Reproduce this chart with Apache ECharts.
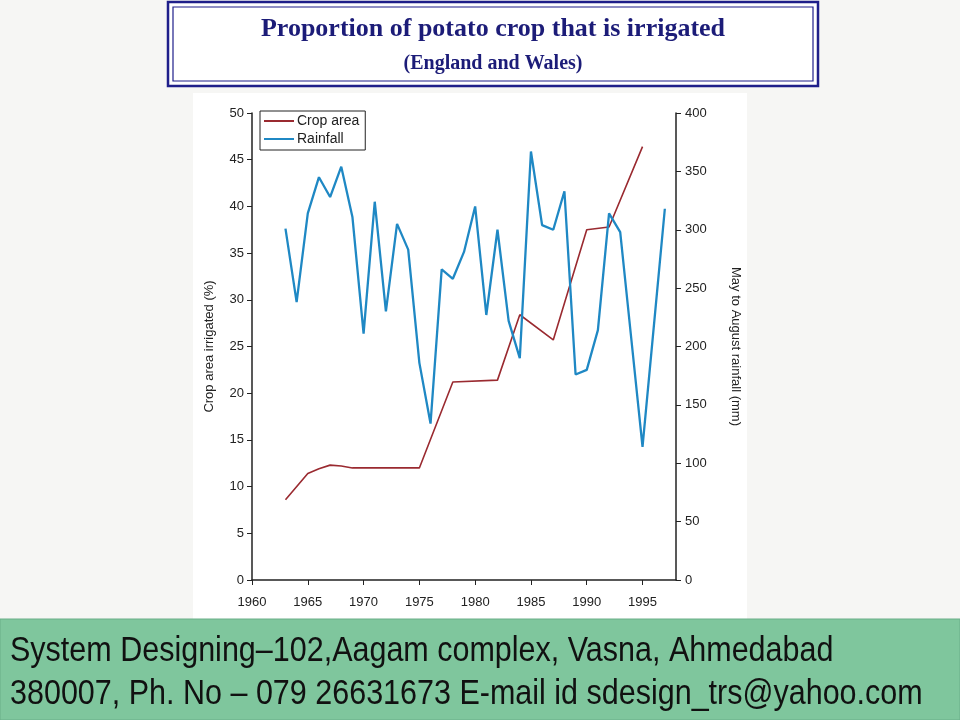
<!DOCTYPE html>
<html>
<head>
<meta charset="utf-8">
<script src="https://cdn.jsdelivr.net/npm/echarts@6/dist/echarts.min.js"></script>
<style>
  html, body { margin: 0; padding: 0; background: #f6f6f4; }
  #chart { width: 960px; height: 720px; }
</style>
</head>
<body>
<div id="chart"></div>
<script>
// Rainfall, May to August (mm), one value per year
var rainYears = [1963, 1964, 1965, 1966, 1967, 1968, 1969, 1970, 1971, 1972,
                 1973, 1974, 1975, 1976, 1977, 1978, 1979, 1980, 1981, 1982,
                 1983, 1984, 1985, 1986, 1987, 1988, 1989, 1990, 1991, 1992,
                 1993, 1994, 1995, 1996, 1997];
var rainValues = [301, 238, 314, 345, 328, 354, 311, 211, 324, 230,
                  305, 283, 186, 134, 266, 258, 281, 320, 227, 300,
                  222, 190, 367, 304, 300, 333, 176, 180, 214, 314,
                  298, 206, 114, 216, 318];

// Crop area irrigated (%)
var cropYears = [1963, 1965, 1966, 1967, 1968, 1969, 1970, 1975, 1978, 1982, 1984, 1987, 1990, 1992, 1995];
var cropValues = [8.6, 11.4, 11.9, 12.3, 12.2, 12.0, 12.0, 12.0, 21.2, 21.4, 28.4, 25.7, 37.5, 37.8, 46.4];

var titleText = 'Proportion of potato crop that is irrigated';
var subtitleText = '(England and Wales)';
var footerLines = [
    'System Designing\u2013102,Aagam complex, Vasna, Ahmedabad',
    '380007, Ph. No \u2013 079 26631673 E-mail id sdesign_trs@yahoo.com'
];

function pairs(xs, ys) {
    return xs.map(function (x, i) { return [x, ys[i]]; });
}

var chart = echarts.init(document.getElementById('chart'));

var axisText = { color: '#222', fontFamily: 'Liberation Sans, Arial, sans-serif', fontSize: 13 };

chart.setOption({
    backgroundColor: '#f6f6f4',
    animation: false,
    textStyle: { fontFamily: 'Liberation Sans, Arial, sans-serif' },
    graphic: [
        // white sheet behind the plot
        { type: 'rect', z: -10, shape: { x: 193, y: 93, width: 554, height: 527 }, style: { fill: '#ffffff' } },
        // title box, double border
        { type: 'rect', z: -5, shape: { x: 168, y: 2, width: 650, height: 84 },
          style: { fill: '#ffffff', stroke: '#1f1f8a', lineWidth: 2.5 } },
        { type: 'rect', z: -4, shape: { x: 173, y: 7, width: 640, height: 74 },
          style: { fill: 'none', stroke: '#1f1f8a', lineWidth: 1.2 } },
        { type: 'text', x: 493, y: 29, style: {
            text: titleText, fill: '#1c1c78', align: 'center', verticalAlign: 'middle',
            font: 'bold 26px "Liberation Serif", "Times New Roman", serif' } },
        { type: 'text', x: 493, y: 64, style: {
            text: subtitleText, fill: '#1c1c78', align: 'center', verticalAlign: 'middle',
            font: 'bold 20px "Liberation Serif", "Times New Roman", serif' } },
        // footer band
        { type: 'rect', z: -5, shape: { x: 0, y: 619, width: 960, height: 101 },
          style: { fill: '#7fc69d', stroke: '#6aae88', lineWidth: 1 } },
        { type: 'text', x: 10, y: 651, scaleY: 1.15, style: {
            text: footerLines[0], fill: '#111', verticalAlign: 'middle',
            font: '30.5px "Liberation Sans", Arial, sans-serif' } },
        { type: 'text', x: 10, y: 694, scaleY: 1.15, style: {
            text: footerLines[1], fill: '#111', verticalAlign: 'middle',
            font: '30.5px "Liberation Sans", Arial, sans-serif' } }
    ],
    legend: {
        left: 260,
        top: 111,
        orient: 'vertical',
        icon: 'rect',
        itemWidth: 30,
        itemHeight: 2,
        itemGap: 4,
        padding: [3, 6, 4, 4],
        borderColor: '#222',
        borderWidth: 1,
        backgroundColor: '#fff',
        textStyle: { color: '#222', fontSize: 14, fontFamily: 'Liberation Sans, Arial, sans-serif', padding: [0, 0, 0, -2] },
        data: ['Crop area', 'Rainfall']
    },
    grid: { left: 252, right: 284, top: 113, bottom: 140 },
    xAxis: {
        type: 'value',
        min: 1960,
        max: 1998,
        interval: 5,
        axisLine: { onZero: false, lineStyle: { color: '#222', width: 1.5 } },
        axisTick: { length: 5, lineStyle: { color: '#222' } },
        splitLine: { show: false },
        axisLabel: {
            showMaxLabel: false,
            margin: 16,
            formatter: function (v) { return String(v); },
            color: axisText.color, fontSize: axisText.fontSize, fontFamily: axisText.fontFamily
        }
    },
    yAxis: [{
        type: 'value',
        position: 'left',
        min: 0,
        max: 50,
        interval: 5,
        name: 'Crop area irrigated (%)',
        nameLocation: 'middle',
        nameGap: 36,
        nameRotate: 90,
        nameTextStyle: axisText,
        axisLine: { show: true, lineStyle: { color: '#222', width: 1.5 } },
        axisTick: { show: true, length: 5, lineStyle: { color: '#222' } },
        splitLine: { show: false },
        axisLabel: { margin: 8, color: axisText.color, fontSize: axisText.fontSize, fontFamily: axisText.fontFamily }
    }, {
        type: 'value',
        position: 'right',
        min: 0,
        max: 400,
        interval: 50,
        name: 'May to August rainfall (mm)',
        nameLocation: 'middle',
        nameGap: 53,
        nameRotate: -90,
        nameTextStyle: axisText,
        axisLine: { show: true, lineStyle: { color: '#222', width: 1.5 } },
        axisTick: { show: true, length: 5, lineStyle: { color: '#222' } },
        splitLine: { show: false },
        axisLabel: { margin: 9, color: axisText.color, fontSize: axisText.fontSize, fontFamily: axisText.fontFamily }
    }],
    series: [{
        name: 'Crop area',
        type: 'line',
        yAxisIndex: 0,
        showSymbol: false,
        color: '#9a2a30',
        lineStyle: { width: 1.6, color: '#9a2a30' },
        data: pairs(cropYears, cropValues)
    }, {
        name: 'Rainfall',
        type: 'line',
        yAxisIndex: 1,
        showSymbol: false,
        color: '#1f88c4',
        lineStyle: { width: 2.3, color: '#1f88c4' },
        data: pairs(rainYears, rainValues)
    }]
});
</script>
</body>
</html>
